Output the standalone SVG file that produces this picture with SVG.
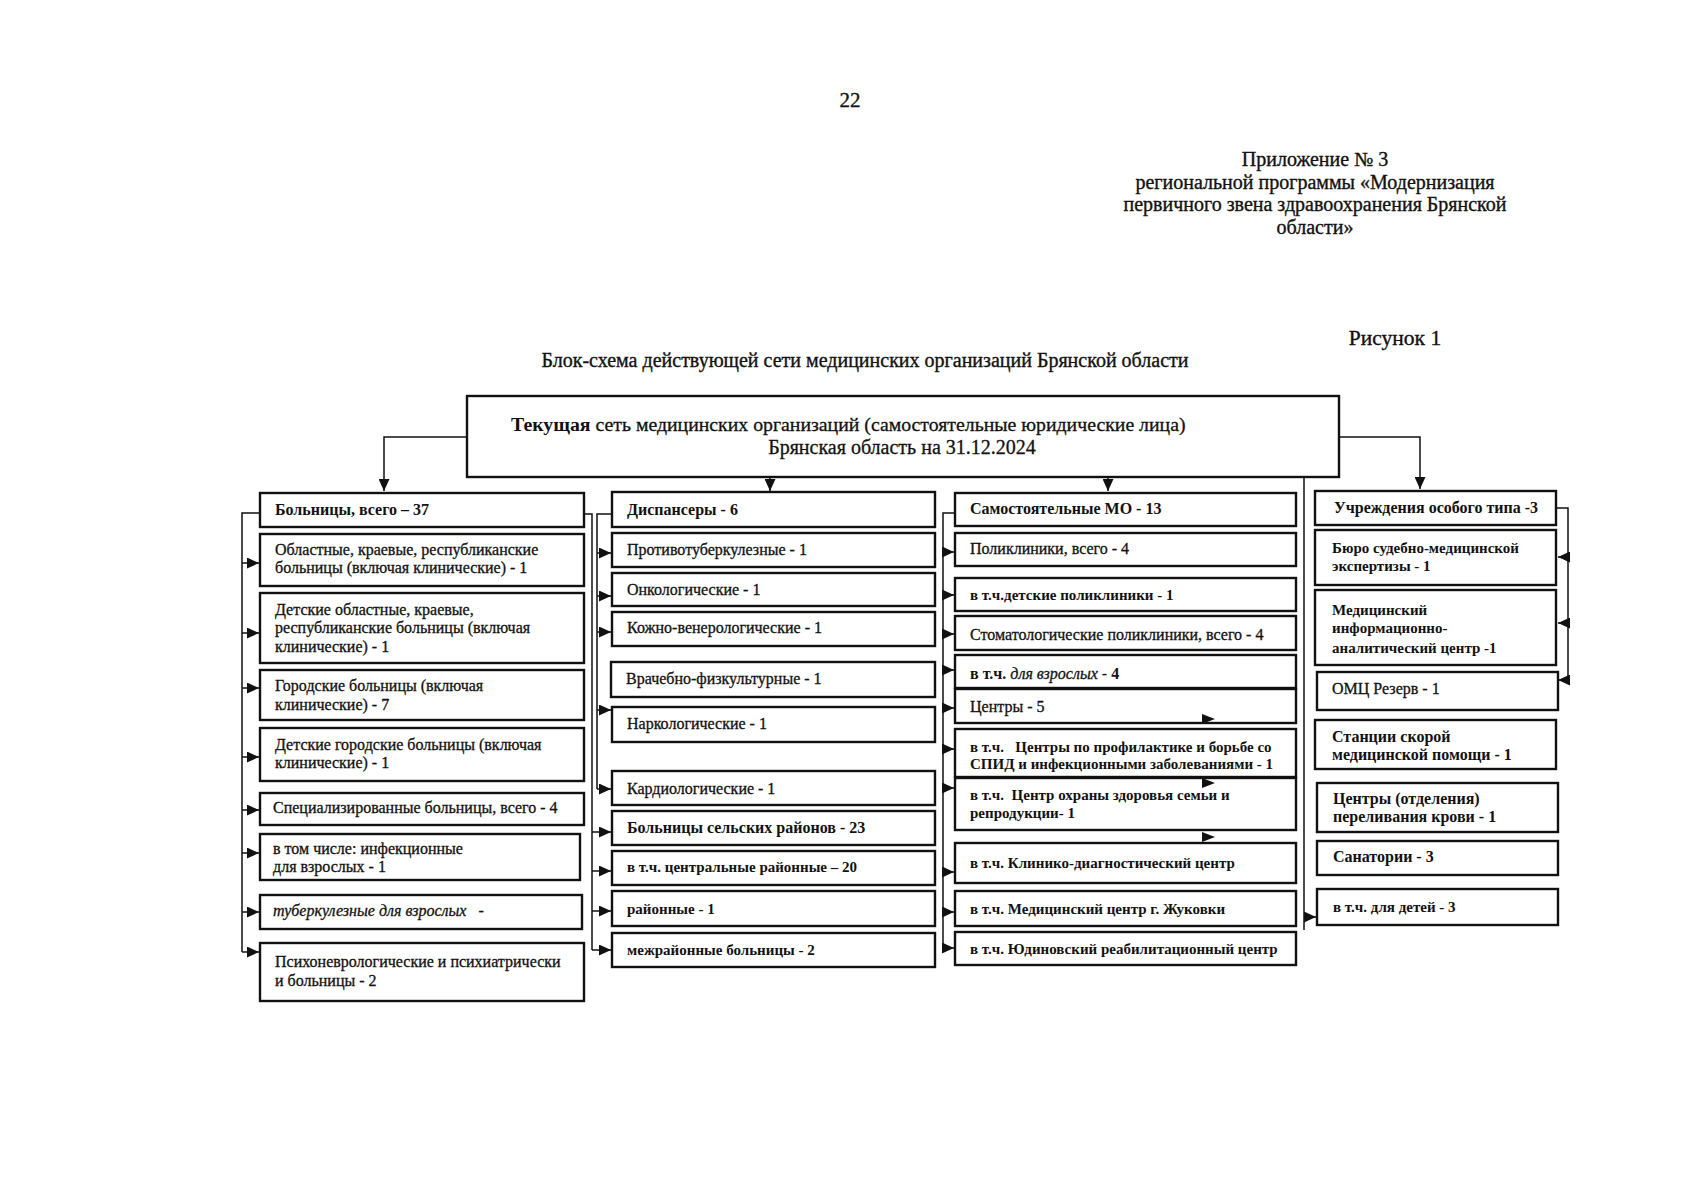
<svg xmlns="http://www.w3.org/2000/svg" width="1687" height="1200" viewBox="0 0 1687 1200">
<defs>
<style>
.bx{fill:#fff;stroke:#111;stroke-width:2.4}
.t{font-family:"Liberation Serif","Times New Roman",serif;font-size:16px;fill:#111;stroke:#111;stroke-width:0.3}
.b{font-weight:bold;stroke-width:0}
.s{font-size:15px}
.i{font-style:italic}
.c{fill:none;stroke:#111;stroke-width:1.5}
.h{font-family:"Liberation Serif","Times New Roman",serif;fill:#111;stroke:#111;stroke-width:0.35}
</style>
<marker id="ar" markerUnits="userSpaceOnUse" markerWidth="13" markerHeight="11" refX="12" refY="5.5" orient="auto">
<path d="M0,0 L12,5.5 L0,11 z" fill="#111"/>
</marker>
</defs>
<rect width="1687" height="1200" fill="#fff"/>

<text class="h" x="850" y="107" font-size="21" text-anchor="middle">22</text>
<g class="h" font-size="20" text-anchor="middle">
<text x="1315" y="166">Приложение № 3</text>
<text x="1315" y="189">региональной программы «Модернизация</text>
<text x="1315" y="211">первичного звена здравоохранения Брянской</text>
<text x="1315" y="234">области»</text>
</g>
<text class="h" x="1395" y="345" font-size="21.5" text-anchor="middle">Рисунок 1</text>
<text class="h" x="865" y="367" font-size="20" text-anchor="middle">Блок-схема действующей сети медицинских организаций Брянской области</text>

<g id="connectors">
<path class="c" d="M467,437 H384 V491" marker-end="url(#ar)"/>
<path class="c" d="M770,477 V491" marker-end="url(#ar)"/>
<path class="c" d="M1108,477 V491" marker-end="url(#ar)"/>
<path class="c" d="M1339,437 H1420 V489" marker-end="url(#ar)"/>
<path class="c" d="M260,513 H242 V952"/>
<path class="c" d="M242,563 H259" marker-end="url(#ar)"/>
<path class="c" d="M242,633 H259" marker-end="url(#ar)"/>
<path class="c" d="M242,688 H259" marker-end="url(#ar)"/>
<path class="c" d="M242,757 H259" marker-end="url(#ar)"/>
<path class="c" d="M242,810 H259" marker-end="url(#ar)"/>
<path class="c" d="M242,853 H259" marker-end="url(#ar)"/>
<path class="c" d="M242,912 H259" marker-end="url(#ar)"/>
<path class="c" d="M242,952 H259" marker-end="url(#ar)"/>
<path class="c" d="M584,514 H592 V950"/>
<path class="c" d="M592,832 H611" marker-end="url(#ar)"/>
<path class="c" d="M592,871 H611" marker-end="url(#ar)"/>
<path class="c" d="M592,911 H611" marker-end="url(#ar)"/>
<path class="c" d="M592,950 H611" marker-end="url(#ar)"/>
<path class="c" d="M612,514 H597 V789"/>
<path class="c" d="M597,553 H611" marker-end="url(#ar)"/>
<path class="c" d="M597,596 H611" marker-end="url(#ar)"/>
<path class="c" d="M597,632 H611" marker-end="url(#ar)"/>
<path class="c" d="M597,710 H611" marker-end="url(#ar)"/>
<path class="c" d="M597,789 H611" marker-end="url(#ar)"/>
<path class="c" d="M955,513 H943 V948"/>
<path class="c" d="M943,552 H954" marker-end="url(#ar)"/>
<path class="c" d="M943,595 H954" marker-end="url(#ar)"/>
<path class="c" d="M943,634 H954" marker-end="url(#ar)"/>
<path class="c" d="M943,670 H954" marker-end="url(#ar)"/>
<path class="c" d="M943,708 H954" marker-end="url(#ar)"/>
<path class="c" d="M943,749 H954" marker-end="url(#ar)"/>
<path class="c" d="M943,788 H954" marker-end="url(#ar)"/>
<path class="c" d="M943,872 H954" marker-end="url(#ar)"/>
<path class="c" d="M943,912 H954" marker-end="url(#ar)"/>
<path class="c" d="M943,948 H954" marker-end="url(#ar)"/>
<path class="c" d="M1304,477 V930"/>
<path class="c" d="M1304,917 H1316" marker-end="url(#ar)"/>
<path class="c" d="M1556,508 H1568 V680"/>
<path class="c" d="M1568,557 H1558" marker-end="url(#ar)"/>
<path class="c" d="M1568,623 H1558" marker-end="url(#ar)"/>
<path class="c" d="M1568,680 H1558" marker-end="url(#ar)"/>
</g>

<g id="top">
<rect class="bx" x="467" y="396" width="872" height="81"/>
<text class="t" x="511" y="431" style="font-size:19.8px"><tspan class="b">Текущая</tspan> сеть медицинских организаций (самостоятельные юридические лица)</text>
<text class="t" x="902" y="454" style="font-size:20px" text-anchor="middle">Брянская область на 31.12.2024</text>
</g>

<g id="n-hosp"><rect class="bx" x="260" y="493" width="324" height="34"/><text class="t b" x="275" y="515">Больницы, всего – 37</text></g>
<g id="n-obl"><rect class="bx" x="260" y="534" width="324" height="52"/><text class="t" x="275" y="555">Областные, краевые, республиканские</text><text class="t" x="275" y="573">больницы (включая клинические) - 1</text></g>
<g id="n-detobl"><rect class="bx" x="260" y="593" width="324" height="70"/><text class="t" x="275" y="615">Детские областные, краевые,</text><text class="t" x="275" y="633">республиканские больницы (включая</text><text class="t" x="275" y="652">клинические) - 1</text></g>
<g id="n-gor"><rect class="bx" x="260" y="670" width="324" height="50"/><text class="t" x="275" y="691">Городские больницы (включая</text><text class="t" x="275" y="710">клинические) - 7</text></g>
<g id="n-detgor"><rect class="bx" x="260" y="728" width="324" height="53"/><text class="t" x="275" y="750">Детские городские больницы (включая</text><text class="t" x="275" y="768">клинические) - 1</text></g>
<g id="n-spec"><rect class="bx" x="260" y="793" width="324" height="32"/><text class="t" x="273" y="813">Специализированные больницы, всего - 4</text></g>
<g id="n-inf"><rect class="bx" x="260" y="834" width="320" height="46"/><text class="t" x="273" y="854">в том числе: инфекционные</text><text class="t" x="273" y="872">для взрослых - 1</text></g>
<g id="n-tub"><rect class="bx" x="260" y="895" width="322" height="34"/><text class="t i" x="273" y="916">туберкулезные для взрослых &#160; -</text></g>
<g id="n-psy"><rect class="bx" x="260" y="943" width="324" height="58"/><text class="t" x="275" y="967">Психоневрологические и психиатрически</text><text class="t" x="275" y="986">и больницы - 2</text></g>

<g id="n-disp"><rect class="bx" x="612" y="492" width="323" height="35"/><text class="t b" x="627" y="515">Диспансеры - 6</text></g>
<g id="n-ptub"><rect class="bx" x="612" y="533" width="323" height="34"/><text class="t" x="627" y="555">Противотуберкулезные - 1</text></g>
<g id="n-onk"><rect class="bx" x="612" y="573" width="323" height="33"/><text class="t" x="627" y="595">Онкологические - 1</text></g>
<g id="n-kozh"><rect class="bx" x="612" y="612" width="323" height="34"/><text class="t" x="627" y="633">Кожно-венерологические - 1</text></g>
<g id="n-vrach"><rect class="bx" x="611" y="662" width="324" height="35"/><text class="t" x="626" y="684">Врачебно-физкультурные - 1</text></g>
<g id="n-nark"><rect class="bx" x="612" y="707" width="323" height="35"/><text class="t" x="627" y="729">Наркологические - 1</text></g>
<g id="n-kard"><rect class="bx" x="612" y="771" width="323" height="34"/><text class="t" x="627" y="794">Кардиологические - 1</text></g>
<g id="n-selsk"><rect class="bx" x="612" y="811" width="323" height="34"/><text class="t b" x="627" y="833">Больницы сельских районов - 23</text></g>
<g id="n-centr"><rect class="bx" x="612" y="851" width="323" height="34"/><text class="t b s" x="627" y="872">в т.ч. центральные районные – 20</text></g>
<g id="n-rayon"><rect class="bx" x="612" y="891" width="323" height="35"/><text class="t b s" x="627" y="914">районные - 1</text></g>
<g id="n-mezh"><rect class="bx" x="612" y="933" width="323" height="34"/><text class="t b s" x="627" y="955">межрайонные больницы - 2</text></g>

<g id="n-samost"><rect class="bx" x="955" y="493" width="341" height="33"/><text class="t b" x="970" y="514">Самостоятельные МО - 13</text></g>
<g id="n-polik"><rect class="bx" x="955" y="533" width="341" height="33"/><text class="t" x="970" y="554">Поликлиники, всего - 4</text></g>
<g id="n-detpol"><rect class="bx" x="955" y="578" width="341" height="33"/><text class="t b s" x="970" y="600">в т.ч.детские поликлиники - 1</text></g>
<g id="n-stom"><rect class="bx" x="955" y="616" width="341" height="34"/><text class="t" x="970" y="640">Стоматологические поликлиники, всего - 4</text></g>
<g id="n-vzr"><rect class="bx" x="955" y="655" width="341" height="33"/><text class="t" x="970" y="679"><tspan class="b">в т.ч.</tspan> <tspan class="i">для взрослых</tspan><tspan class="b"> - 4</tspan></text></g>
<g id="n-centry"><rect class="bx" x="955" y="689" width="341" height="34"/><text class="t" x="970" y="712">Центры - 5</text></g>
<g id="n-spid"><rect class="bx" x="955" y="729" width="341" height="48"/><text class="t b s" x="970" y="752">в т.ч. &#160; Центры по профилактике и борьбе со</text><text class="t b s" x="970" y="769">СПИД и инфекционными заболеваниями - 1</text></g>
<g id="n-semya"><rect class="bx" x="955" y="778" width="341" height="52"/><text class="t b s" x="970" y="800">в т.ч. &#160;Центр охраны здоровья семьи и</text><text class="t b s" x="970" y="818">репродукции- 1</text></g>
<g id="n-kdc"><rect class="bx" x="955" y="843" width="341" height="40"/><text class="t b s" x="970" y="868">в т.ч. Клинико-диагностический центр</text></g>
<g id="n-zhuk"><rect class="bx" x="955" y="891" width="341" height="35"/><text class="t b s" x="970" y="914">в т.ч. Медицинский центр г. Жуковки</text></g>
<g id="n-yud"><rect class="bx" x="955" y="932" width="341" height="33"/><text class="t b s" x="970" y="954">в т.ч. Юдиновский реабилитационный центр</text></g>

<g id="n-osob"><rect class="bx" x="1315" y="491" width="241" height="34"/><text class="t b" x="1334" y="513">Учреждения особого типа -3</text></g>
<g id="n-buro"><rect class="bx" x="1315" y="530" width="241" height="55"/><text class="t b s" x="1332" y="553">Бюро судебно-медицинской</text><text class="t b s" x="1332" y="571">экспертизы - 1</text></g>
<g id="n-miac"><rect class="bx" x="1315" y="590" width="241" height="75"/><text class="t b s" x="1332" y="615">Медицинский</text><text class="t b s" x="1332" y="633">информационно-</text><text class="t b s" x="1332" y="653">аналитический центр -1</text></g>
<g id="n-omc"><rect class="bx" x="1317" y="672" width="241" height="38"/><text class="t" x="1332" y="694">ОМЦ Резерв - 1</text></g>
<g id="n-skor"><rect class="bx" x="1315" y="720" width="241" height="49"/><text class="t b" x="1332" y="742">Станции скорой</text><text class="t b" x="1332" y="760">медицинской помощи - 1</text></g>
<g id="n-krov"><rect class="bx" x="1317" y="783" width="241" height="49"/><text class="t b" x="1333" y="804">Центры (отделения)</text><text class="t b" x="1333" y="822">переливания крови - 1</text></g>
<g id="n-san"><rect class="bx" x="1317" y="841" width="241" height="34"/><text class="t b" x="1333" y="862">Санатории - 3</text></g>
<g id="n-sandet"><rect class="bx" x="1317" y="889" width="241" height="36"/><text class="t b s" x="1333" y="912">в т.ч. для детей - 3</text></g>

<g id="stray-arrows" fill="#111">
<path d="M1202,714 L1215,719 L1202,724 z"/>
<path d="M1202,778 L1215,783 L1202,788 z"/>
<path d="M1202,832 L1215,837 L1202,842 z"/>
</g>
</svg>
